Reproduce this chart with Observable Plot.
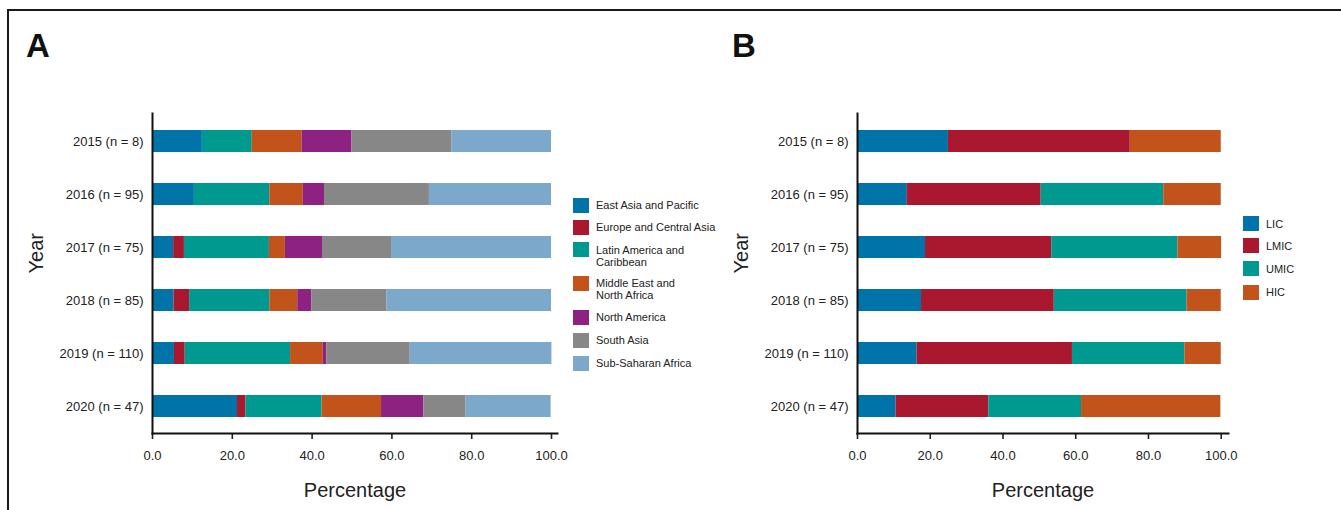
<!DOCTYPE html>
<html>
<head>
<meta charset="utf-8">
<script src="https://cdn.jsdelivr.net/npm/d3@7"></script>
<script src="https://cdn.jsdelivr.net/npm/@observablehq/plot@0.6"></script>
<style>
  html, body { margin: 0; padding: 0; background: #fff; }
  #page { position: relative; width: 1341px; height: 510px; overflow: hidden; font-family: "Liberation Sans", Arial, sans-serif; color: #222; }
  #border { position: absolute; left: 7px; top: 9px; width: 1340px; height: 510px; border-top: 2px solid #1a1a1a; border-left: 2px solid #1a1a1a; }
  .panel { position: absolute; top: 0; }
  .letter { position: absolute; font-family: "Liberation Sans Narrow", "Liberation Sans", Arial, sans-serif; font-weight: bold; font-size: 33px; line-height: 1; color: #111; }
  .legend { position: absolute; width: 160px; height: 400px; font-size: 11px; line-height: 12px; color: #222; }
  .sw { position: absolute; left: 0; width: 16px; height: 15px; }
  .lab { position: absolute; white-space: nowrap; }
</style>
</head>
<body>
<div id="page">
  <div id="border"></div>
  <div class="letter" style="left:26px; top:29px;">A</div>
  <div class="letter" style="left:732px; top:29px;">B</div>
  <div id="plotA" class="panel" style="left:0px;"></div>
  <div id="plotB" class="panel" style="left:705px;"></div>
  <div id="legendA" class="legend" style="left:573px; top:0px;"></div>
  <div id="legendB" class="legend" style="left:1243px; top:0px; width: 90px;"></div>
</div>
<script>
// ---------- data ----------
const years = ["2015 (n = 8)", "2016 (n = 95)", "2017 (n = 75)", "2018 (n = 85)", "2019 (n = 110)", "2020 (n = 47)"];

// Panel A: region percentages per year
const regions = ["East Asia and Pacific", "Europe and Central Asia", "Latin America and Caribbean", "Middle East and North Africa", "North America", "South Asia", "Sub-Saharan Africa"];
const regionLegendLabels = [["East Asia and Pacific"], ["Europe and Central Asia"], ["Latin America and", "Caribbean"], ["Middle East and", "North Africa"], ["North America"], ["South Asia"], ["Sub-Saharan Africa"]];
const regionColors = ["#0073a8", "#aa182f", "#009990", "#c1531b", "#8e2282", "#878787", "#7ca9cb"];
const eastAsiaPacific   = [12.5, 10.5,  5.3,  5.4,  5.5, 21.3];
const europeCentralAsia = [ 0.0,  0.0,  2.7,  3.9,  2.7,  2.1];
const latinAmerica      = [12.5, 18.9, 21.3, 20.1, 26.4, 19.1];
const middleEastNAfrica = [12.5,  8.4,  4.0,  7.0,  8.2, 14.9];
const northAmerica      = [12.5,  5.3,  9.3,  3.5,  0.9, 10.6];
const southAsia         = [25.0, 26.3, 17.3, 18.8, 20.9, 10.6];
const subSaharanAfrica  = [25.0, 30.6, 40.1, 41.3, 35.5, 21.3];
const regionSeries = [eastAsiaPacific, europeCentralAsia, latinAmerica, middleEastNAfrica, northAmerica, southAsia, subSaharanAfrica];

// Panel B: income-group percentages per year
const incomes = ["LIC", "LMIC", "UMIC", "HIC"];
const incomeColors = ["#0073a8", "#aa182f", "#009990", "#c1531b"];
const lic  = [25.0, 13.7, 18.7, 17.6, 16.4, 10.6];
const lmic = [50.0, 36.8, 34.7, 36.5, 42.7, 25.5];
const umic = [ 0.0, 33.7, 34.7, 36.5, 30.9, 25.5];
const hic  = [25.0, 15.8, 12.0,  9.4, 10.0, 38.3];
const incomeSeries = [lic, lmic, umic, hic];

const xTicks = [0, 20, 40, 60, 80, 100];

// ---------- build ----------
function tidy(names, series) {
  const rows = [];
  years.forEach((y, i) => names.forEach((n, j) => rows.push({year: y, group: n, value: series[j][i]})));
  return rows;
}

function panel(rows, names, colors, width, marginRight, xMax) {
  return Plot.plot({
    width, height: 510,
    marginLeft: 152, marginRight, marginTop: 113, marginBottom: 77,
    style: {fontFamily: '"Liberation Sans", Arial, sans-serif', fontSize: "13px", color: "#222", background: "transparent", overflow: "visible"},
    x: {domain: [0, xMax]},
    y: {domain: years, paddingInner: 0.585, paddingOuter: 0.2925, align: 0.5},
    color: {domain: names, range: colors},
    marks: [
      Plot.barX(rows, Plot.stackX({x: "value", y: "year", fill: "group", order: null})),
      Plot.axisY({tickSize: 0, tickPadding: 9, fontSize: 13, label: null}),
      Plot.axisX({ticks: xTicks, tickFormat: d => d.toFixed(1), tickSize: 6, tickPadding: 11, strokeWidth: 1.6, fontSize: 13, label: null}),
      Plot.frame({anchor: "left", stroke: "#111", strokeWidth: 2}),
      Plot.frame({anchor: "bottom", stroke: "#111", strokeWidth: 2}),
      Plot.text(["Percentage"], {frameAnchor: "bottom", dy: 57, fontSize: 20, fill: "#222", lineAnchor: "middle",
        fontFamily: '"Liberation Sans Narrow", "Liberation Sans", Arial, sans-serif', letterSpacing: "1px"}),
      Plot.text(["Year"], {frameAnchor: "left", dx: -116, rotate: -90, fontSize: 20, fill: "#222", lineAnchor: "middle",
        fontFamily: '"Liberation Sans Narrow", "Liberation Sans", Arial, sans-serif', letterSpacing: "1px"})
    ]
  });
}

document.getElementById("plotA").appendChild(panel(tidy(regions, regionSeries), regions, regionColors, 565, 8, 101.5));
document.getElementById("plotB").appendChild(panel(tidy(incomes, incomeSeries), incomes, incomeColors, 530, 7, 102));

// legends
function legend(el, labels, colors, swatchTops, textTops) {
  labels.forEach((lines, i) => {
    const sw = document.createElement("div");
    sw.className = "sw"; sw.style.top = swatchTops[i] + "px"; sw.style.background = colors[i];
    el.appendChild(sw);
    const t = document.createElement("div");
    t.className = "lab"; t.style.left = "23px"; t.style.top = textTops[i] + "px";
    t.innerHTML = lines.join("<br>");
    el.appendChild(t);
  });
}
legend(document.getElementById("legendA"), regionLegendLabels, regionColors,
  [198, 220, 242, 276, 310, 333, 356],
  [199, 221, 244, 277, 311, 334, 357]);
legend(document.getElementById("legendB"), incomes.map(d => [d]), incomeColors,
  [216, 238, 261, 285],
  [218, 240, 263, 286]);
</script>
</body>
</html>
